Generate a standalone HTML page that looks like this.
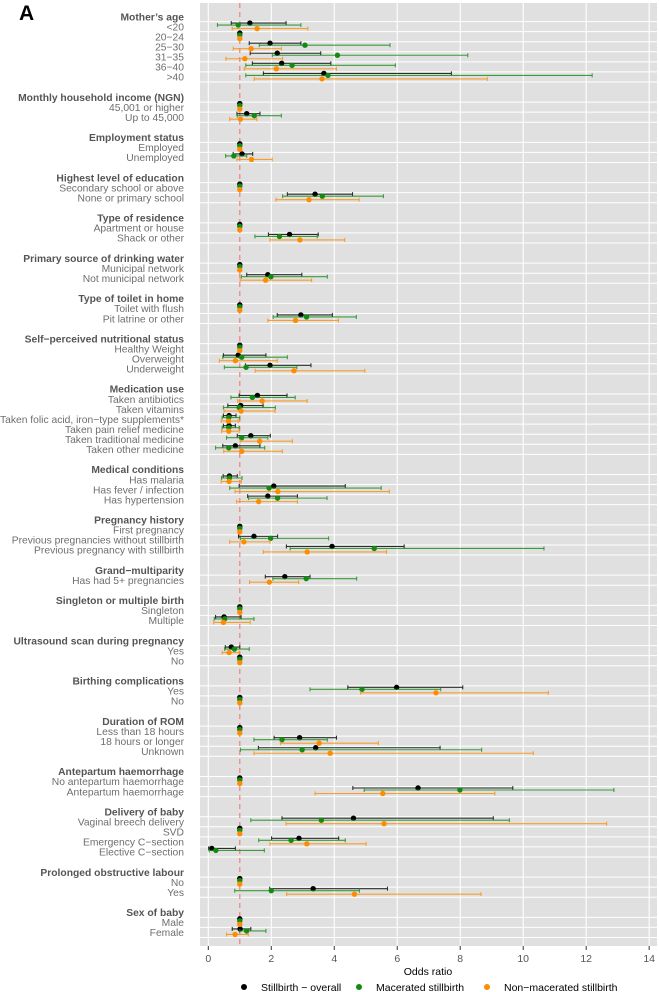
<!DOCTYPE html>
<html><head><meta charset="utf-8">
<style>
html,body{margin:0;padding:0;background:#fff;}
svg{display:block;font-family:"Liberation Sans",Arial,sans-serif;}
</style></head>
<body>
<svg id="chart" width="659" height="992" viewBox="0 0 659 992" xmlns="http://www.w3.org/2000/svg">
<text x="19" y="20" font-size="21" font-weight="bold" fill="#000">A</text>
<rect x="200" y="3" width="457" height="943" fill="#e0e0e0"/>
<g id="grid"></g><g id="refline"></g><g id="marks"></g><g id="labels"></g><g id="axis"></g>
<g>
<circle cx="244" cy="987" r="3" fill="#000"/>
<text x="261" y="991" font-size="10.5" fill="#000">Stillbirth − overall</text>
<circle cx="359" cy="987" r="3" fill="#138a13"/>
<text x="376" y="991" font-size="10.5" fill="#000">Macerated stillbirth</text>
<circle cx="487" cy="987" r="3" fill="#ff8c00"/>
<text x="504" y="991" font-size="10.5" fill="#000">Non−macerated stillbirth</text>
</g>
</svg>
<script>
// Group headers and their item labels
const groupTitles = ["Mother’s age","Monthly household income (NGN)","Employment status","Highest level of education","Type of residence","Primary source of drinking water","Type of toilet in home","Self−perceived nutritional status","Medication use","Medical conditions","Pregnancy history","Grand−multiparity","Singleton or multiple birth","Ultrasound scan during pregnancy","Birthing complications","Duration of ROM","Antepartum haemorrhage","Delivery of baby","Prolonged obstructive labour","Sex of baby"];
const groupItems = [
 ["<20","20−24","25−30","31−35","36−40",">40"],
 ["45,001 or higher","Up to 45,000"],
 ["Employed","Unemployed"],
 ["Secondary school or above","None or primary school"],
 ["Apartment or house","Shack or other"],
 ["Municipal network","Not municipal network"],
 ["Toilet with flush","Pit latrine or other"],
 ["Healthy Weight","Overweight","Underweight"],
 ["Taken antibiotics","Taken vitamins","Taken folic acid, iron−type supplements*","Taken pain relief medicine","Taken traditional medicine","Taken other medicine"],
 ["Has malaria","Has fever / infection","Has hypertension"],
 ["First pregnancy","Previous pregnancies without stillbirth","Previous pregnancy with stillbirth"],
 ["Has had 5+ pregnancies"],
 ["Singleton","Multiple"],
 ["Yes","No"],
 ["Yes","No"],
 ["Less than 18 hours","18 hours or longer","Unknown"],
 ["No antepartum haemorrhage","Antepartum haemorrhage"],
 ["Vaginal breech delivery","SVD","Emergency C−section","Elective C−section"],
 ["No","Yes"],
 ["Male","Female"]
];
// Values, one per item in reading order
const overallEst = [1.32,1,1.96,2.19,2.33,3.67, 1,1.22, 1,1.07, 1,3.39, 1,2.58, 1,1.89, 1,2.94, 1,0.95,1.96, 1.56,1.03,0.66,0.66,1.35,0.86, 0.67,2.08,1.89, 1,1.45,3.93, 2.43, 1,0.50, 0.73,1, 5.98,1, 1,2.90,3.41, 1,6.66, 4.61,1,2.88,0.11, 1,3.33, 1,1.01];
const overallLo  = [0.73,1,1.30,1.33,1.40,1.75, 1,0.91, 1,0.79, 1,2.51, 1,1.91, 1,1.22, 1,2.19, 1,0.48,1.18, 0.98,0.62,0.48,0.48,0.92,0.46, 0.47,0.98,1.25, 1,0.96,2.48, 1.81, 1,0.23, 0.54,1, 4.43,1, 1,2.09,1.59, 1,4.59, 2.34,1,2.01,0.01, 1,1.95, 1,0.76];
const overallHi  = [2.47,1,2.94,3.57,3.89,7.72, 1,1.64, 1,1.41, 1,4.58, 1,3.49, 1,2.97, 1,3.94, 1,1.83,3.26, 2.50,1.74,0.88,0.86,1.97,1.64, 0.92,4.35,2.83, 1,2.20,6.22, 3.23, 1,1.04, 1.00,1, 8.08,1, 1,4.07,7.36, 1,9.67, 9.05,1,4.14,0.86, 1,5.69, 1,1.35];
const maceratedEst = [0.95,1,3.07,4.10,2.66,3.80, 1,1.46, 1,0.81, 1,3.62, 1,2.26, 1,1.99, 1,3.12, 1,1.06,1.20, 1.40,0.98,0.65,0.65,1.06,0.65, 0.67,1.93,2.20, 1,1.98,5.27, 3.11, 1,0.52, 0.83,1, 4.88,1, 1,2.34,2.98, 1,7.99, 3.59,1,2.63,0.24, 1,2.00, 1,1.22];
const maceratedLo  = [0.29,1,1.62,2.03,1.19,1.19, 1,0.92, 1,0.55, 1,2.36, 1,1.48, 1,1.05, 1,2.06, 1,0.46,0.51, 0.72,0.48,0.44,0.44,0.58,0.23, 0.42,0.68,1.28, 1,1.02,2.60, 2.05, 1,0.19, 0.52,1, 3.23,1, 1,1.45,1.02, 1,4.95, 1.35,1,1.60,0.03, 1,0.84, 1,1.00];
const maceratedHi  = [2.94,1,5.77,8.24,5.94,12.19, 1,2.32, 1,1.22, 1,5.56, 1,3.46, 1,3.78, 1,4.70, 1,2.51,2.81, 2.76,2.13,1.00,0.98,1.89,1.79, 1.07,5.49,3.77, 1,3.82,10.66, 4.71, 1,1.45, 1.30,1, 7.38,1, 1,3.78,8.68, 1,12.88, 9.56,1,4.35,1.78, 1,4.80, 1,1.83];
const nonMacEst = [1.55,1,1.36,1.16,2.16,3.61, 1,1.02, 1,1.37, 1,3.20, 1,2.91, 1,1.82, 1,2.77, 1,0.86,2.72, 1.71,1.04,0.64,0.65,1.63,1.06, 0.66,2.21,1.60, 1,1.13,3.14, 1.94, 1,0.48, 0.66,1, 7.23,1, 1,3.52,3.87, 1,5.54, 5.58,1,3.13,null, 1,4.64, 1,0.85];
const nonMacLo  = [0.76,1,0.79,0.56,1.14,1.46, 1,0.68, 1,0.91, 1,2.15, 1,1.96, 1,1.01, 1,1.89, 1,0.35,1.49, 0.93,0.50,0.41,0.42,1.01,0.49, 0.41,0.85,0.90, 1,0.68,1.75, 1.31, 1,0.17, 0.44,1, 4.84,1, 1,2.29,1.45, 1,3.39, 2.47,1,1.96,null, 1,2.49, 1,0.58];
const nonMacHi  = [3.16,1,2.32,2.36,4.07,8.86, 1,1.54, 1,2.03, 1,4.79, 1,4.33, 1,3.28, 1,4.13, 1,2.19,4.97, 3.14,2.12,0.95,0.98,2.67,2.35, 1.05,5.75,2.83, 1,1.96,5.66, 2.87, 1,1.33, 0.98,1, 10.80,1, 1,5.40,10.32, 1,9.10, 12.65,1,5.01,null, 1,8.66, 1,1.27];
const xTicks = [0,2,4,6,8,10,12,14];

const NS="http://www.w3.org/2000/svg";
const X0=208.3, PX=31.49;
const xScale=v=>X0+v*PX;
const yScale=i=>16.5+i*10.065;
function mk(tag,attrs,parent,txt){const e=document.createElementNS(NS,tag);for(const k in attrs)e.setAttribute(k,attrs[k]);if(txt!==undefined)e.textContent=txt;parent.appendChild(e);return e;}
const G=id=>document.getElementById(id);

let level=0;const itemLevels=[];
groupTitles.forEach((t,gi)=>{
  const h=mk('text',{x:184,y:yScale(level)+3.8,'text-anchor':'end','font-size':'10.3','font-weight':'bold',fill:'#555'},G('labels'),t);
  
  
  const first=level+1;
  groupItems[gi].forEach(lbl=>{
    level++;itemLevels.push(level);
    const e=mk('text',{x:184,y:yScale(level)+3.8,'text-anchor':'end','font-size':'10.3',fill:'#6e6e6e'},G('labels'),lbl);
    
    
  });
  for(let k=first;k<=level+1;k++){
    const y=yScale(k)-5;
    const gl=mk('line',{x1:200,x2:657,y1:y,y2:y,stroke:'#fff','stroke-width':1},G('grid'));
    
    
  }
  level+=2;
});
xTicks.forEach(v=>{
  const x=xScale(v);
  const gl=mk('line',{x1:x,x2:x,y1:3,y2:946,stroke:'#fff','stroke-width':1.1},G('grid'));
  
  
  const t=mk('line',{x1:x,x2:x,y1:946,y2:950,stroke:'#333','stroke-width':1},G('axis'));
  
  
  const l=mk('text',{x:x,y:962,'text-anchor':'middle','font-size':'10.5',fill:'#555'},G('axis'),String(v));
  
  
});
const at=mk('text',{x:428,y:975,'text-anchor':'middle','font-size':'10.5',fill:'#000'},G('axis'),'Odds ratio');


const rl=mk('line',{x1:xScale(1),x2:xScale(1),y1:3,y2:946,stroke:'#f08080','stroke-width':1.2,'stroke-dasharray':'5,4'},G('refline'));



const series=[
 {name:'overall',est:overallEst,lo:overallLo,hi:overallHi,col:'#000',dy:-3.5},
 {name:'macerated',est:maceratedEst,lo:maceratedLo,hi:maceratedHi,col:'#138a13',dy:-1.5},
 {name:'non-macerated',est:nonMacEst,lo:nonMacLo,hi:nonMacHi,col:'#ff8c00',dy:2}
];
series.forEach(s=>{
  itemLevels.forEach((lv,i)=>{
    if(s.est[i]==null)return;
    const y=yScale(lv)+s.dy;
    if(s.hi[i]-s.lo[i]>0.02){
      const g=mk('g',{stroke:s.col,'stroke-width':1.1,opacity:0.8},G('marks'));
      
      
      mk('line',{x1:xScale(s.lo[i]),x2:xScale(s.hi[i]),y1:y,y2:y},g);
      mk('line',{x1:xScale(s.lo[i]),x2:xScale(s.lo[i]),y1:y-2,y2:y+2},g);
      mk('line',{x1:xScale(s.hi[i]),x2:xScale(s.hi[i]),y1:y-2,y2:y+2},g);
    }
    const c=mk('circle',{cx:xScale(s.est[i]),cy:y,r:2.7,fill:s.col},G('marks'));
    
    
  });
});
</script>
</body></html>
